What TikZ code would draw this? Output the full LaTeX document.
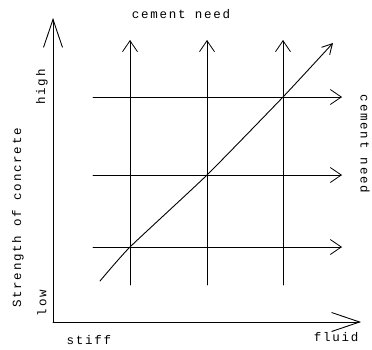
\documentclass[tikz,border=0pt]{standalone}
\usepackage{fontspec}
\newfontfamily\typefont[LetterSpace=14]{Liberation Mono}
\usetikzlibrary{arrows.meta}
\begin{document}
\begin{tikzpicture}[x=1pt,y=-1pt,line join=round,line cap=round,font=\typefont\fontsize{12.5}{14}\selectfont,
	axis/.style={line width=0.9pt,-{Straight Barb[length=28pt,width=19pt,line width=0.9pt]}},
	grid/.style={line width=0.8pt,-{Straight Barb[length=11pt,width=15pt,line width=0.8pt]}},
	lab/.style={inner sep=0pt}]
	\useasboundingbox (0,0) rectangle (372,349);
	\def\xo{53} \def\yo{322} % origin
	\def\xl{93} \def\xr{342} \def\yb{285} \def\yt{40} % grid limits
	% axes
	\coordinate (O) at (\xo,\yo);
	\coordinate (ytip) at (\xo,18);
	\coordinate (xtip) at (361,\yo);
	\draw[axis] (O)--(ytip);
	\draw[axis] (O)--(xtip);
	% grid with arrows
	\foreach \gx in {130,207,283}{
		\draw[grid] (\gx,\yb)--(\gx,\yt);
	}
	\foreach \gy in {97,175,247}{
		\draw[grid] (\xl,\gy)--(\xr,\gy);
	}
	% diagonal through the crossings
	\coordinate (d0) at (100,281);
	\coordinate (d1) at (130,247);
	\coordinate (d2) at (207,175);
	\coordinate (d3) at (283,97);
	\coordinate (d4) at (333,43);
	\draw[line width=0.9pt,-{Straight Barb[length=10pt,width=11pt,line width=0.9pt]}] plot[smooth,tension=0.3] coordinates {(d0) (d1) (d2) (d3) (d4)};
	% labels
	\node[lab] (top) at (181,14) {cement need};
	\node[lab,rotate=-90] (right) at (365,144) {cement need};
	\node[lab,rotate=90] (high) at (42,87) {high};
	\node[lab,rotate=90] (low) at (42,303) {low};
	\node[lab,rotate=90] (strength) at (18,218) {Strength of concrete};
	\node[lab] (stiff) at (89,340) {stiff};
	\node[lab] (fluid) at (336,337) {fluid};
\end{tikzpicture}
\end{document}
